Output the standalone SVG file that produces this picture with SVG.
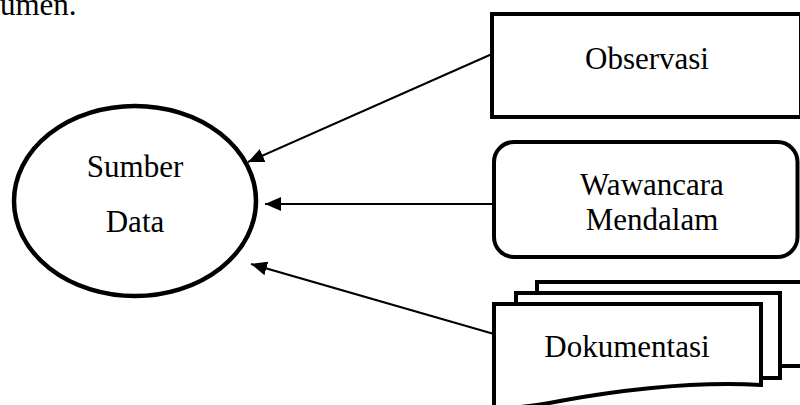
<svg xmlns="http://www.w3.org/2000/svg" width="800" height="405" viewBox="0 0 800 405">
<defs>
<style>
text{font-family:"Liberation Serif","Times New Roman",serif;font-size:31px;fill:#000}
.c{text-anchor:middle}
.shape{fill:#fff;stroke:#000;stroke-width:4}
.edge{stroke:#000;stroke-width:2;fill:none}
</style>
<marker id="ah" markerUnits="userSpaceOnUse" markerWidth="16" markerHeight="14" refX="16" refY="7" orient="auto">
<path d="M0,0 L16,7 L0,14 Z" fill="#000"/>
</marker>
</defs>
<rect width="800" height="405" fill="#fff"/>
<text x="0" y="15">umen.</text>
<g id="sumber-data">
<ellipse class="shape" cx="135" cy="201" rx="121" ry="95" style="stroke-width:4.5"/>
<text class="c" x="135" y="177">Sumber</text>
<text class="c" x="135" y="232">Data</text>
</g>
<g id="observasi">
<rect class="shape" x="492" y="14" width="309" height="103"/>
<text class="c" x="647" y="69">Observasi</text>
</g>
<g id="wawancara">
<rect class="shape" x="494" y="142" width="303.5" height="115" rx="20" ry="20"/>
<text class="c" x="652" y="195">Wawancara</text>
<text class="c" x="652" y="230">Mendalam</text>
</g>
<g id="dokumentasi">
<path class="shape" d="M537,410 V282 H806 V366 H782"/>
<path class="shape" d="M516,410 V293 H780 V378 H761"/>
<path class="shape" d="M494,412 V304 H761 V385 C690,381 610,392 560,401 C530,407 510,409 494,407 Z"/>
<text class="c" x="627" y="357">Dokumentasi</text>
</g>
<g id="connectors">
<line class="edge" x1="492" y1="54" x2="248" y2="162" marker-end="url(#ah)"/>
<line class="edge" x1="494" y1="204" x2="265" y2="204" marker-end="url(#ah)"/>
<line class="edge" x1="494" y1="334" x2="251" y2="264" marker-end="url(#ah)"/>
</g>
</svg>
